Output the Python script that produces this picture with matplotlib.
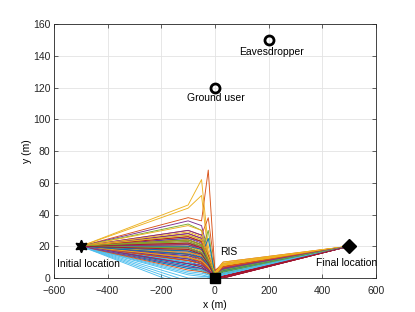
import matplotlib
matplotlib.use("Agg")
import matplotlib.pyplot as plt

plt.rcParams['font.family'] = ['Liberation Sans', 'DejaVu Sans']

# trajectory waypoints (x positions shared by all trajectories)
x_way = [-500, -100, -50, -25, 0, 30, 500]
y_start = 20
y_end = 20

# y of each trajectory at the intermediate waypoints
y_m100 = [22, 38, 46, 36, 34, 12, 28,
          25, 30, 44, 30, 27, 8, 24,
          18, 26, 33, 28, 20, 4, 21,
          16, 23, 29, 25, 18, 0, 19,
          14, 21, 26, 22, 15, -4, 17,
          12, 19, 24, 19, 13, 2, 15,
          10, 17, 22, 16, 11, -6, 13,
          8, 15, 20, 14, 9, 6, 11,
          6, 13, 18, 12, 7, 10, 9,
          20, 24, 16, 21, 23, 3, 26,
          17, 11, 13, 9, 19, 7, 22,
          15, 5, 27, 7, 24, -2, 18]
y_m50 = [20, 36, 62, 33, 30, 9, 25,
         23, 27, 52, 27, 24, 6, 21,
         16, 23, 30, 25, 17, 3, 18,
         14, 20, 26, 22, 15, 0, 16,
         12, 18, 23, 19, 13, -2, 14,
         10, 16, 21, 16, 11, 1, 12,
         8, 14, 19, 13, 9, -3, 10,
         6, 12, 17, 11, 7, 4, 9,
         5, 10, 15, 9, 5, 7, 7,
         18, 21, 14, 19, 20, 2, 23,
         15, 9, 11, 8, 16, 5, 19,
         13, 4, 24, 6, 21, -1, 15]
y_m25 = [12, 68, 20, 16, 14, 5, 13,
         14, 38, 15, 13, 12, 3, 11,
         10, 14, 16, 12, 30, 2, 10,
         25, 11, 14, 11, 8, 0, 9,
         7, 10, 12, 9, 7, 0, 8,
         6, 9, 11, 8, 6, 1, 7,
         5, 8, 10, 7, 5, 0, 6,
         4, 7, 9, 6, 4, 2, 5,
         3, 6, 8, 5, 3, 4, 4,
         10, 12, 9, 11, 12, 1, 14,
         9, 6, 7, 5, 10, 3, 11,
         8, 3, 13, 4, 11, 0, 9]
y_0 = [2, 4, 3, 2, 1, 0, 1,
       3, 5, 2, 1, 2, 1, 0,
       1, 2, 3, 2, 1, 0, 1,
       2, 1, 2, 3, 0, 1, 0,
       1, 2, 1, 2, 1, 0, 1,
       2, 3, 2, 1, 2, 1, 0,
       1, 2, 3, 2, 1, 0, 1,
       0, 1, 2, 1, 2, 1, 0,
       1, 2, 1, 2, 0, 1, 1,
       2, 1, 2, 1, 3, 0, 1,
       1, 2, 1, 0, 2, 1, 1,
       2, 1, 3, 1, 2, 0, 0]
y_30 = [6, 10, 9, 7, 5, 3, 2,
        5, 8, 9, 6, 5, 4, 1,
        6, 7, 8, 6, 4, 3, 1,
        5, 7, 9, 5, 4, 3, 0,
        4, 6, 8, 6, 5, 2, 1,
        5, 7, 8, 5, 3, 2, 0,
        4, 6, 9, 6, 4, 3, 1,
        5, 7, 8, 5, 4, 2, 0,
        4, 6, 9, 6, 3, 2, 1,
        5, 7, 9, 6, 4, 2, 1,
        4, 6, 8, 5, 4, 3, 0,
        5, 7, 10, 6, 5, 2, 1]

initial_loc = (-500, 20)
final_loc = (500, 20)
ris_loc = (0, 0)
user_loc = (0, 120)
eve_loc = (200, 150)

colors = ['#0072BD', '#D95319', '#EDB120', '#7E2F8E',
          '#77AC30', '#4DBEEE', '#A2142F']

fig = plt.figure(figsize=(4.15, 3.12), dpi=100)
ax = fig.add_axes([0.130, 0.109, 0.776, 0.814])

for i in range(len(y_m100)):
    ys = [y_start, y_m100[i], y_m50[i], y_m25[i], y_0[i], y_30[i], y_end]
    ax.plot(x_way, ys, color=colors[i % 7], lw=0.65)

ax.plot(*initial_loc, marker=(6, 1, 0), color='k', ms=9, zorder=5)
ax.plot(*final_loc, marker='D', color='k', ms=7.5, zorder=5)
ax.plot(*ris_loc, marker='s', color='k', ms=7, zorder=5, clip_on=False)
ax.plot(*user_loc, marker='o', mfc='none', mec='k', mew=2, ms=6.5, zorder=5)
ax.plot(*eve_loc, marker='o', mfc='none', mec='k', mew=2, ms=6.5, zorder=5)

fs = 7.5
ax.text(-589, 8.5, 'Initial location', ha='left', va='center', fontsize=fs)
ax.text(19, 16.5, 'RIS', ha='left', va='center', fontsize=fs)
ax.text(490, 9.5, 'Final location', ha='center', va='center', fontsize=fs)
ax.text(3, 113.5, 'Ground user', ha='center', va='center', fontsize=fs)
ax.text(212, 142.5, 'Eavesdropper', ha='center', va='center', fontsize=fs)

ax.set_xlim(-600, 600)
ax.set_ylim(0, 160)
ax.set_xticks(range(-600, 601, 200))
ax.set_yticks(range(0, 161, 20))
ax.set_xlabel('x (m)', fontsize=fs, labelpad=3.5)
ax.set_ylabel('y (m)', fontsize=fs, labelpad=1)
ax.tick_params(direction='in', top=True, right=True, labelsize=fs,
               length=3, width=0.5, colors='#262626')
ax.tick_params(axis='x', pad=5.5)
ax.tick_params(axis='y', pad=2.5)
ax.grid(True, color='#e3e3e3', lw=0.6)
ax.set_axisbelow(True)
for s in ax.spines.values():
    s.set_color('#262626')
    s.set_linewidth(0.6)

fig.savefig('out.png', dpi=100)
